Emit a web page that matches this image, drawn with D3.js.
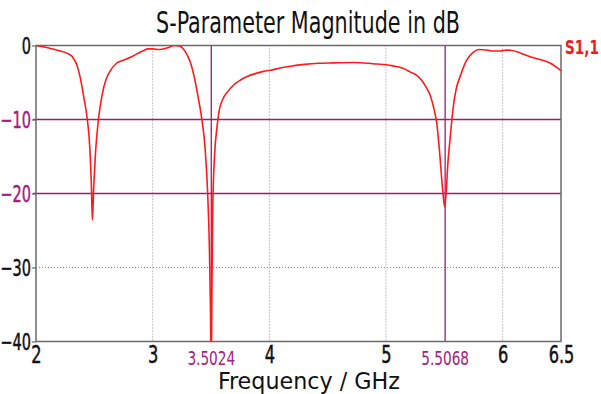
<!DOCTYPE html>
<html>
<head>
<meta charset="utf-8">
<script src="https://cdn.jsdelivr.net/npm/d3@7"></script>
<style>
  html, body { margin: 0; padding: 0; background: #fff; }
  svg { display: block; }
  text { font-family: "DejaVu Sans Condensed", "Liberation Sans Narrow", sans-serif; }
</style>
</head>
<body>
<svg id="chart" width="601" height="394"></svg>
<script>
// S11 reflection coefficient of the antenna (GHz, dB)
const freqGHz = [
  2.00, 2.10, 2.20, 2.26, 2.31, 2.35, 2.38, 2.41, 2.44, 2.46, 2.475, 2.483, 2.495, 2.51, 2.535, 2.565,
  2.60, 2.63, 2.69, 2.75, 2.81, 2.87, 2.92, 2.96, 3.00, 3.06, 3.12, 3.19, 3.23, 3.26, 3.30, 3.33,
  3.36, 3.39, 3.42, 3.45, 3.47, 3.485, 3.495, 3.502, 3.508, 3.515, 3.53, 3.55, 3.57, 3.60, 3.64,
  3.69, 3.75, 3.81, 3.88, 3.95, 4.01, 4.09, 4.18, 4.30, 4.42, 4.55, 4.72, 4.85, 4.92, 5.00, 5.06,
  5.15, 5.21, 5.26, 5.30, 5.35, 5.38, 5.41, 5.435, 5.46, 5.48, 5.495, 5.503, 5.515, 5.53, 5.55,
  5.575, 5.60, 5.635, 5.69, 5.75, 5.80, 5.86, 5.92, 5.98, 6.03, 6.07, 6.15, 6.23, 6.32, 6.41, 6.50
];
const s11dB = [
  0.0, -0.3, -0.7, -1.0, -1.5, -2.6, -4.4, -7.0, -10.0, -13.5, -19.0, -23.6, -19.0, -14.5, -10.0, -6.8,
  -4.6, -3.6, -2.4, -2.0, -1.6, -1.1, -0.7, -0.45, -0.45, -0.55, -0.35, 0.0, -0.05, -0.4, -1.4, -2.6,
  -4.5, -7.0, -9.8, -14.0, -19.5, -26.5, -35.0, -45.0, -33.0, -22.0, -15.0, -11.2, -8.8, -7.3, -6.3,
  -5.4, -4.7, -4.2, -3.8, -3.5, -3.35, -3.05, -2.8, -2.55, -2.4, -2.35, -2.3, -2.4, -2.5, -2.6, -2.75,
  -3.1, -3.6, -4.0, -4.6, -5.8, -6.8, -8.5, -10.5, -14.5, -18.5, -21.0, -21.8, -20.0, -16.0, -12.5,
  -8.5, -6.0, -4.2, -2.0, -0.9, -0.55, -0.6, -0.75, -0.75, -0.62, -0.65, -1.0, -1.5, -1.9, -2.4, -3.4
];

const xTicks = [2, 3, 4, 5, 6, 6.5];
const yTicks = [0, -10, -20, -30, -40];
const freqMarkers = [3.5024, 5.5068];   // vertical marker lines
const levelMarkers = [-10, -20];        // horizontal marker lines
const seriesName = "S1,1";

const purple = "#9a1d6f";
const purpleText = "#a3207f";

const svg = d3.select("#chart");
const m = { left: 36, right: 40, top: 45.5, bottom: 52.5 };
const W = 601, H = 394;

const x = d3.scaleLinear().domain([2, 6.5]).range([m.left, W - m.right]);
const y = d3.scaleLinear().domain([-40, 0]).range([H - m.bottom, m.top]);

// narrow a text horizontally around its own anchor point
function squeeze(sel, f) {
  sel.each(function () {
    const t = d3.select(this);
    const ax = parseFloat(t.attr("x")) || 0;
    t.attr("transform", `translate(${ax},0) scale(${f},1) translate(${-ax},0)`);
  });
}

svg.append("defs").append("clipPath").attr("id", "plotClip")
  .append("rect")
  .attr("x", x(2)).attr("y", y(0))
  .attr("width", x(6.5) - x(2)).attr("height", y(-40) - y(0));

// dotted grid
const gridX = xTicks.filter(v => v > 2 && v < 6.5);
svg.append("g").selectAll("line").data(gridX).join("line")
  .attr("x1", d => x(d)).attr("x2", d => x(d))
  .attr("y1", y(0)).attr("y2", y(-40))
  .attr("stroke", "#8a8a8a").attr("stroke-width", 1).attr("stroke-dasharray", "1,2");
const gridY = yTicks.filter(v => v < 0 && v > -40 && !levelMarkers.includes(v));
svg.append("g").selectAll("line").data(gridY).join("line")
  .attr("x1", x(2)).attr("x2", x(6.5))
  .attr("y1", d => y(d)).attr("y2", d => y(d))
  .attr("stroke", "#8a8a8a").attr("stroke-width", 1).attr("stroke-dasharray", "1,2");

// marker lines
svg.append("g").selectAll("line").data(levelMarkers).join("line")
  .attr("x1", x(2) - 3).attr("x2", x(6.5))
  .attr("y1", d => y(d)).attr("y2", d => y(d))
  .attr("stroke", purple).attr("stroke-width", 1.5);
svg.append("g").selectAll("line").data(freqMarkers).join("line")
  .attr("x1", d => x(d)).attr("x2", d => x(d))
  .attr("y1", y(0)).attr("y2", y(-40))
  .attr("stroke", purple).attr("stroke-width", 1.3);

// frame
svg.append("rect")
  .attr("x", x(2)).attr("y", y(0))
  .attr("width", x(6.5) - x(2)).attr("height", y(-40) - y(0))
  .attr("fill", "none").attr("stroke", "#6a6a6a").attr("stroke-width", 1.5);

// curve
const line = d3.line()
  .x((d, i) => x(freqGHz[i]))
  .y(d => y(d))
  .curve(d3.curveMonotoneX);
svg.append("path")
  .datum(s11dB)
  .attr("clip-path", "url(#plotClip)")
  .attr("d", line)
  .attr("fill", "none")
  .attr("stroke", "#ff1a1a")
  .attr("stroke-width", 1.6)
  .attr("stroke-linejoin", "round");

// y axis
const yAxis = svg.append("g")
  .attr("transform", `translate(${x(2)},0)`)
  .call(d3.axisLeft(y).tickValues(yTicks).tickFormat(d3.format("d")).tickSize(4).tickPadding(1));
yAxis.select(".domain").remove();
yAxis.selectAll(".tick line").attr("stroke", "#6a6a6a").attr("stroke-width", 1.2);
yAxis.selectAll(".tick text")
  .attr("font-size", 23)
  .attr("fill", d => levelMarkers.includes(d) ? purpleText : "#111")
  .attr("stroke", d => levelMarkers.includes(d) ? purpleText : "#111")
  .attr("stroke-width", 0.5)
  .attr("dy", "0.36em")
  .call(squeeze, 0.7);

// x axis
const xAxis = svg.append("g")
  .attr("transform", `translate(0,${y(-40)})`)
  .call(d3.axisBottom(x).tickValues(xTicks).tickFormat(d3.format("~g")).tickSize(0).tickPadding(4));
xAxis.select(".domain").remove();
xAxis.selectAll(".tick text")
  .attr("font-size", 25)
  .attr("fill", "#111")
  .attr("stroke", "#111")
  .attr("stroke-width", 0.5)
  .attr("dy", "0.7em")
  .call(squeeze, 0.72);

// marker frequency labels
svg.append("g").selectAll("text").data(freqMarkers).join("text")
  .attr("x", d => x(d))
  .attr("y", y(-40) + 24)
  .attr("text-anchor", "middle")
  .attr("font-size", 19)
  .attr("fill", purpleText)
  .text(d => d3.format(".4f")(d))
  .call(squeeze, 0.8);

// titles
svg.append("text")
  .attr("x", 308).attr("y", 33)
  .attr("text-anchor", "middle")
  .attr("font-size", 31)
  .attr("fill", "#111")
  .attr("textLength", 304).attr("lengthAdjust", "spacingAndGlyphs")
  .text("S-Parameter Magnitude in dB");

svg.append("text")
  .attr("x", 309).attr("y", 389)
  .attr("text-anchor", "middle")
  .attr("font-size", 23)
  .attr("fill", "#111")
  .attr("textLength", 182).attr("lengthAdjust", "spacingAndGlyphs")
  .text("Frequency / GHz");

// series label
svg.append("text")
  .attr("x", x(6.5) + 4).attr("y", 54)
  .attr("font-size", 20)
  .attr("font-weight", "bold")
  .attr("fill", "#ee1c1c")
  .text(seriesName)
  .call(squeeze, 0.76);
</script>
</body>
</html>
